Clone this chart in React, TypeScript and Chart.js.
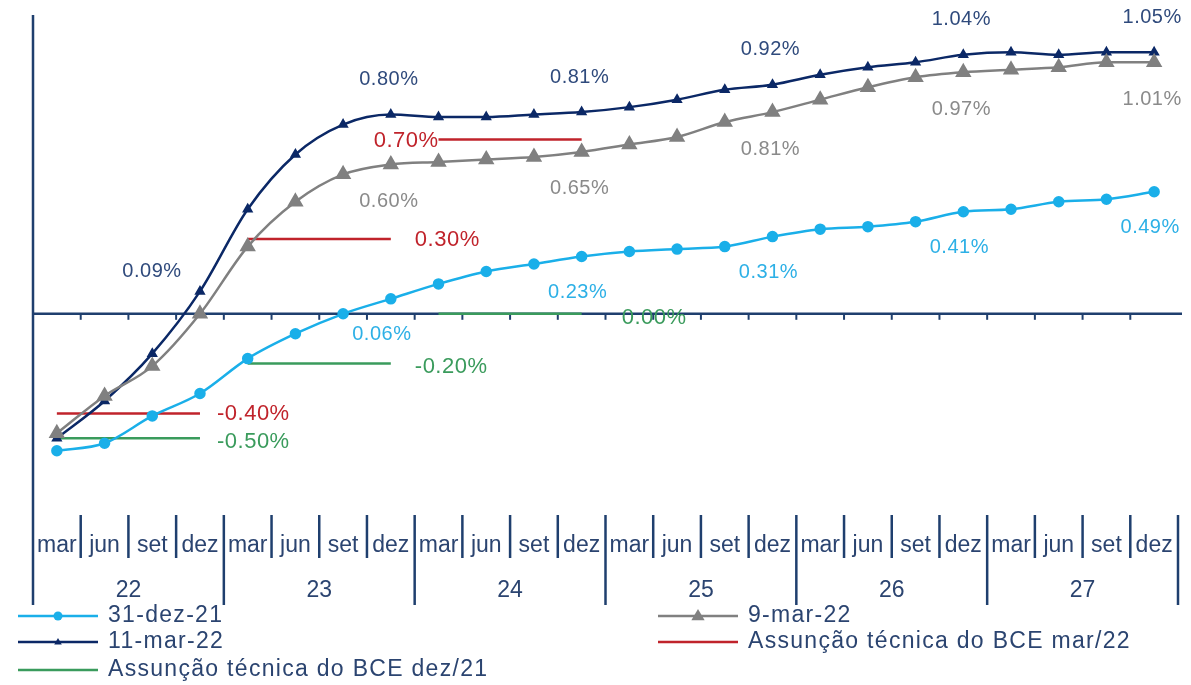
import React, { useEffect, useRef } from "react";
import { Chart, registerables } from "chart.js";

Chart.register(...registerables);

const months = ["mar", "jun", "set", "dez"];
const years = ["22", "23", "24", "25", "26", "27"];
const categories = years.flatMap((y) => months.map((m) => `${m} ${y}`));

const seriesNames = [
  "31-dez-21",
  "9-mar-22",
  "11-mar-22",
  "Assunção técnica do BCE mar/22",
  "Assunção técnica do BCE dez/21",
];

const dez21 = [-0.55, -0.52, -0.41, -0.32, -0.18, -0.08, 0.0, 0.06, 0.12, 0.17, 0.2, 0.23, 0.25, 0.26, 0.27, 0.31, 0.34, 0.35, 0.37, 0.41, 0.42, 0.45, 0.46, 0.49];
const mar9 = [-0.48, -0.33, -0.21, 0.0, 0.27, 0.45, 0.56, 0.6, 0.61, 0.62, 0.63, 0.65, 0.68, 0.71, 0.77, 0.81, 0.86, 0.91, 0.95, 0.97, 0.98, 0.99, 1.01, 1.01];
const mar11 = [-0.5, -0.35, -0.16, 0.09, 0.42, 0.64, 0.76, 0.8, 0.79, 0.79, 0.8, 0.81, 0.83, 0.86, 0.9, 0.92, 0.96, 0.99, 1.01, 1.04, 1.05, 1.04, 1.05, 1.05];
const ecbMar22 = [-0.4, -0.4, -0.4, -0.4, 0.3, 0.3, 0.3, 0.3, 0.7, 0.7, 0.7, 0.7, null, null, null, null, null, null, null, null, null, null, null, null];
const ecbDez21 = [-0.5, -0.5, -0.5, -0.5, -0.2, -0.2, -0.2, -0.2, 0.0, 0.0, 0.0, 0.0, null, null, null, null, null, null, null, null, null, null, null, null];

const dez21Labels = [7, 11, 15, 19, 23];
const mar9Labels = [7, 11, 15, 19, 23];
const mar11Labels = [3, 7, 11, 15, 19, 23];
const ecbMar22Labels = [3, 7, 8];
const ecbDez21Labels = [3, 7, 11];

const yMin = -0.8;
const yMax = 1.2;

const FONT = '"Liberation Sans", Arial, sans-serif';
const AXIS = "#1F3F6E";
const TEXT = "#2B4470";
const C_BLUE = "#1AAFE9";
const C_NAVY = "#0B2866";
const C_GRAY = "#808080";
const C_RED = "#C0232B";
const C_GREEN = "#3A9B5C";

const frame = {
  id: "frame",
  beforeDatasetsDraw(chart: any) {
    const { ctx, chartArea, scales } = chart;
    const x = scales.x;
    const y = scales.y;
    const n = categories.length;
    const step = x.getPixelForValue(1) - x.getPixelForValue(0);
    const left = x.getPixelForValue(0) - step / 2;
    const right = x.getPixelForValue(n - 1) + step / 2;
    const y0 = y.getPixelForValue(0);
    const bottom = chartArea.bottom;
    ctx.save();
    ctx.strokeStyle = AXIS;
    ctx.lineWidth = 2.5;
    ctx.beginPath();
    ctx.moveTo(left, chartArea.top);
    ctx.lineTo(left, bottom + 92);
    ctx.stroke();
    ctx.beginPath();
    ctx.moveTo(left, y0);
    ctx.lineTo(right + 4, y0);
    ctx.stroke();
    ctx.lineWidth = 2;
    for (let k = 1; k < n; k++) {
      const bx = left + k * step;
      ctx.beginPath();
      ctx.moveTo(bx, y0);
      ctx.lineTo(bx, y0 + 6);
      ctx.stroke();
    }
    // category table
    ctx.lineWidth = 2.5;
    for (let k = 1; k <= n; k++) {
      const bx = left + k * step;
      const long = k % months.length === 0;
      ctx.beginPath();
      ctx.moveTo(bx, bottom + 2);
      ctx.lineTo(bx, long ? bottom + 92 : bottom + 45);
      ctx.stroke();
    }
    ctx.fillStyle = TEXT;
    ctx.textAlign = "center";
    ctx.textBaseline = "middle";
    ctx.font = `23px ${FONT}`;
    categories.forEach((c, i) => {
      const m = c.split(" ")[0];
      ctx.fillText(m, left + (i + 0.5) * step, bottom + 33);
    });
    years.forEach((yr, j) => {
      const cx = left + (j * months.length + months.length / 2) * step;
      ctx.fillText(yr, cx, bottom + 78);
    });
    ctx.restore();
  },
  afterDatasetsDraw(chart: any) {
    const { ctx } = chart;
    ctx.save();
    chart.data.datasets.forEach((ds: any, di: number) => {
      const lab = ds.labelCfg;
      if (!lab) return;
      const meta = chart.getDatasetMeta(di);
      ctx.font = `${lab.size}px ${FONT}`;
      ctx.fillStyle = lab.color;
      ctx.textBaseline = "middle";
      (ctx as any).letterSpacing = "0.5px";
      lab.idx.forEach((i: number) => {
        const p = meta.data[i];
        const v = ds.data[i];
        const o = (lab.over && lab.over[i]) || {};
        const dx = o.dx ?? lab.dx;
        const dy = o.dy ?? lab.dy;
        ctx.textAlign = o.align ?? lab.align;
        ctx.fillText(`${v.toFixed(2)}%`, p.x + dx, p.y + dy);
      });
    });
    ctx.restore();
  },
  afterDraw(chart: any) {
    const { ctx } = chart;
    ctx.save();
    const cols = [18, 658];
    const rows = [616, 642, 670];
    chart.data.datasets.forEach((ds: any, i: number) => {
      const cx = cols[i % 2];
      const cy = rows[Math.floor(i / 2)];
      ctx.strokeStyle = ds.borderColor;
      ctx.lineWidth = 2.5;
      ctx.beginPath();
      ctx.moveTo(cx, cy);
      ctx.lineTo(cx + 80, cy);
      ctx.stroke();
      if (ds.pointRadius > 0) {
        const mx = cx + 40;
        ctx.fillStyle = ds.borderColor;
        ctx.beginPath();
        if (ds.pointStyle === "triangle") {
          const r = ds.pointRadius;
          ctx.moveTo(mx, cy - r);
          ctx.lineTo(mx + r * 0.95, cy + r * 0.6);
          ctx.lineTo(mx - r * 0.95, cy + r * 0.6);
          ctx.closePath();
        } else {
          ctx.arc(mx, cy, ds.pointRadius, 0, Math.PI * 2);
        }
        ctx.fill();
      }
      ctx.fillStyle = TEXT;
      ctx.font = `23px ${FONT}`;
      ctx.textAlign = "left";
      ctx.textBaseline = "middle";
      (ctx as any).letterSpacing = "1.3px";
      ctx.fillText(ds.label, cx + 90, cy);
    });
    ctx.restore();
  },
};

const stepSegment = (color: string) => ({
  borderColor: (c: any) => (c.p0.parsed.y === c.p1.parsed.y ? color : "rgba(0,0,0,0)"),
});

export default function App() {
  const ref = useRef<HTMLCanvasElement | null>(null);
  useEffect(() => {
    document.body.style.margin = "0";
    const chart = new Chart(ref.current as HTMLCanvasElement, {
      type: "line",
      data: {
        labels: categories,
        datasets: [
          {
            label: seriesNames[0],
            data: dez21,
            borderColor: C_BLUE,
            backgroundColor: C_BLUE,
            borderWidth: 2.5,
            pointRadius: 4.5,
            pointStyle: "circle",
            cubicInterpolationMode: "monotone",
            labelCfg: { idx: dez21Labels, color: "#2DB0E6", size: 20, dx: -4, dy: 36, align: "center", over: { 7: { dx: -9 } } },
          } as any,
          {
            label: seriesNames[1],
            data: mar9,
            borderColor: C_GRAY,
            backgroundColor: C_GRAY,
            borderWidth: 2.5,
            pointRadius: 7,
            pointStyle: "triangle",
            cubicInterpolationMode: "monotone",
            labelCfg: { idx: mar9Labels, color: "#8A8A8A", size: 20, dx: -2, dy: 37, align: "center" },
          } as any,
          {
            label: seriesNames[2],
            data: mar11,
            borderColor: C_NAVY,
            backgroundColor: C_NAVY,
            borderWidth: 2.5,
            pointRadius: 4,
            pointStyle: "triangle",
            cubicInterpolationMode: "monotone",
            labelCfg: { idx: mar11Labels, color: "#2F4A7C", size: 20, dx: -2, dy: -35, align: "center", over: { 3: { dx: -48, dy: -20 } } },
          } as any,
          {
            label: seriesNames[3],
            data: ecbMar22,
            borderColor: C_RED,
            backgroundColor: C_RED,
            borderWidth: 2.5,
            pointRadius: 0,
            tension: 0,
            segment: stepSegment(C_RED),
            labelCfg: { idx: ecbMar22Labels, color: C_RED, size: 22, dx: 17, dy: 1, align: "left", over: { 7: { dx: 24 }, 8: { dx: 0, align: "right" } } },
          } as any,
          {
            label: seriesNames[4],
            data: ecbDez21,
            borderColor: C_GREEN,
            backgroundColor: C_GREEN,
            borderWidth: 2.5,
            pointRadius: 0,
            tension: 0,
            segment: stepSegment(C_GREEN),
            labelCfg: { idx: ecbDez21Labels, color: C_GREEN, size: 22, dx: 17, dy: 4, align: "left", over: { 7: { dx: 24, dy: 3 }, 11: { dx: 40, dy: 4 } } },
          } as any,
        ],
      },
      options: {
        responsive: false,
        animation: false,
        layout: { padding: { left: 33, right: 13, top: 15, bottom: 172 } },
        plugins: { legend: { display: false }, tooltip: { enabled: false } },
        scales: {
          x: { type: "category", offset: true, display: false },
          y: { min: yMin, max: yMax, display: false },
        },
      },
      plugins: [frame],
    });
    return () => chart.destroy();
  }, []);
  return (
    <div style={{ position: "absolute", left: 0, top: 0, background: "#fff" }}>
      <canvas ref={ref} width={1191} height={685} style={{ width: 1191, height: 685 }} />
    </div>
  );
}
